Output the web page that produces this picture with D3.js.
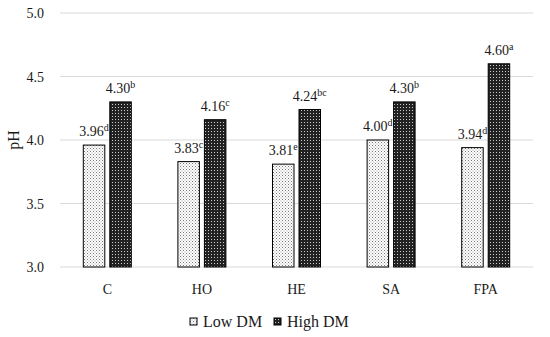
<!DOCTYPE html>
<html>
<head>
<meta charset="utf-8">
<script src="https://cdn.jsdelivr.net/npm/d3@7"></script>
<style>
  body { margin: 0; background: #fff; }
  svg text { font-family: "Liberation Serif", "DejaVu Serif", serif; fill: #1a1a1a; }
</style>
</head>
<body>
<div class="chart"></div>
<script>
const categories = ['C', 'HO', 'HE', 'SA', 'FPA'];
const lowDM = [3.96, 3.83, 3.81, 4.00, 3.94];
const highDM = [4.30, 4.16, 4.24, 4.30, 4.60];
const lowLetters = ['d', 'c', 'e', 'd', 'd'];
const highLetters = ['b', 'c', 'bc', 'b', 'a'];
const yTicks = [3.0, 3.5, 4.0, 4.5, 5.0];
const seriesNames = ['Low DM', 'High DM'];

const width = 550, height = 337;
const margin = { top: 13, right: 17, bottom: 70, left: 60 };
const innerW = width - margin.left - margin.right;
const innerH = height - margin.top - margin.bottom;

const svg = d3.select('.chart').append('svg')
  .attr('width', width)
  .attr('height', height);

// patterns
const defs = svg.append('defs');
const pLow = defs.append('pattern')
  .attr('id', 'lowPat').attr('patternUnits', 'userSpaceOnUse')
  .attr('width', 3).attr('height', 3);
pLow.append('rect').attr('width', 3).attr('height', 3).attr('fill', '#fff');
pLow.append('rect').attr('x', 0).attr('y', 0).attr('width', 1).attr('height', 1).attr('fill', '#777');
pLow.append('rect').attr('x', 1.5).attr('y', 1.5).attr('width', 1).attr('height', 1).attr('fill', '#999');

const pHigh = defs.append('pattern')
  .attr('id', 'highPat').attr('patternUnits', 'userSpaceOnUse')
  .attr('width', 3).attr('height', 3);
pHigh.append('rect').attr('width', 3).attr('height', 3).attr('fill', '#222');
pHigh.append('rect').attr('x', 1).attr('y', 1).attr('width', 1).attr('height', 1).attr('fill', '#ccc');

const g = svg.append('g')
  .attr('transform', `translate(${margin.left},${margin.top})`);

const x = d3.scaleBand().domain(categories).range([0, innerW]);
const y = d3.scaleLinear().domain([3.0, 5.0]).range([innerH, 0]);

// gridlines
g.append('g').selectAll('line')
  .data(yTicks)
  .enter().append('line')
  .attr('x1', 0).attr('x2', innerW)
  .attr('y1', d => y(d)).attr('y2', d => y(d))
  .attr('stroke', '#d9d9d9').attr('stroke-width', 1);

// y tick labels
g.append('g').selectAll('text')
  .data(yTicks)
  .enter().append('text')
  .attr('x', -16).attr('y', d => y(d) + 5)
  .attr('text-anchor', 'end')
  .attr('font-size', '14px')
  .text(d => d.toFixed(1));

// x labels
g.append('g').selectAll('text')
  .data(categories)
  .enter().append('text')
  .attr('x', d => x(d) + x.bandwidth() / 2)
  .attr('y', innerH + 27)
  .attr('text-anchor', 'middle')
  .attr('font-size', '14px')
  .text(d => d);

const barW = 21.5, gap = 5;
const series = [
  { vals: lowDM, letters: lowLetters, fill: 'url(#lowPat)', off: -gap / 2 - barW },
  { vals: highDM, letters: highLetters, fill: 'url(#highPat)', off: gap / 2 }
];

series.forEach(s => {
  const bars = g.append('g').selectAll('g')
    .data(categories.map((c, i) => ({ c, v: s.vals[i], l: s.letters[i] })))
    .enter().append('g');

  bars.append('rect')
    .attr('x', d => x(d.c) + x.bandwidth() / 2 + s.off)
    .attr('y', d => y(d.v))
    .attr('width', barW)
    .attr('height', d => innerH - y(d.v))
    .attr('fill', s.fill)
    .attr('stroke', '#000').attr('stroke-width', 1);

  const t = bars.append('text')
    .attr('x', d => x(d.c) + x.bandwidth() / 2 + s.off + barW / 2)
    .attr('y', d => y(d.v) - 9)
    .attr('text-anchor', 'middle')
    .attr('font-size', '14px');
  t.append('tspan').text(d => d.v.toFixed(2));
  t.append('tspan').attr('font-size', '10px').attr('dy', -5).text(d => d.l);
});

// y axis title
svg.append('text')
  .attr('transform', `translate(19, ${margin.top + y(4.0)}) rotate(-90)`)
  .attr('text-anchor', 'middle')
  .attr('font-size', '16px')
  .text('pH');

// legend
const legend = svg.append('g').attr('transform', 'translate(190, 318)');
const legItems = [
  { name: seriesNames[0], fill: 'url(#lowPat)', x: 0 },
  { name: seriesNames[1], fill: 'url(#highPat)', x: 84 }
];
legItems.forEach(it => {
  legend.append('rect')
    .attr('x', it.x).attr('y', 0)
    .attr('width', 7).attr('height', 7)
    .attr('fill', it.fill)
    .attr('stroke', '#000').attr('stroke-width', 1);
  legend.append('text')
    .attr('x', it.x + 13).attr('y', 9)
    .attr('font-size', '16px')
    .text(it.name);
});
</script>
</body>
</html>
